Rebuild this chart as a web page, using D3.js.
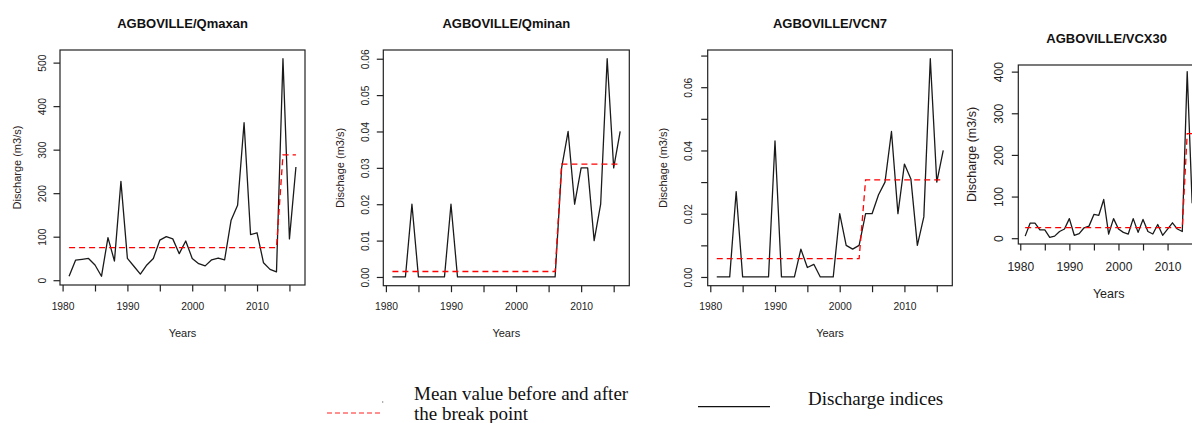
<!DOCTYPE html>
<html>
<head>
<meta charset="utf-8">
<script src="https://cdn.jsdelivr.net/npm/d3@7"></script>
<style>
  html, body { margin: 0; padding: 0; background: #fff; overflow: hidden; }
  svg { display: block; }
</style>
</head>
<body>
<script>
// ---------- DATA ----------
const years = [1981,1982,1983,1984,1985,1986,1987,1988,1989,1990,1991,1992,1993,1994,1995,1996,1997,1998,1999,2000,2001,2002,2003,2004,2005,2006,2007,2008,2009,2010,2011,2012,2013,2014,2015,2016];

const qmaxan = [9,46,48,50,35,9,98,44,227,50,32,14,35,50,92,100,95,61,90,50,38,33,47,51,47,138,172,362,105,109,40,25,19,509,95,260];
const qminan = [0,0,0,0.02,0,0,0,0,0,0.02,0,0,0,0,0,0,0,0,0,0,0,0,0,0,0,0,0.03,0.04,0.02,0.03,0.03,0.01,0.02,0.06,0.03,0.04];
const vcn7   = [0,0,0,0.027,0,0,0,0,0,0.043,0,0,0,0.0088,0.003,0.004,0,0,0,0.02,0.01,0.0088,0.01,0.02,0.02,0.026,0.03,0.046,0.02,0.0357,0.031,0.01,0.019,0.069,0.03,0.04];
const vcx30  = [5,36,36,20,20,2,5,16,22,47,7,11,25,29,57,55,93,10,47,22,14,10,47,14,45,16,10,33,7,22,37,22,16,400,85,268];

// mean value before / after break: [lastYearBefore, meanBefore, firstYearAfter, meanAfter]
const qmaxanBreak = [2013, 75, 2014, 288];
const qminanBreak = [2006, 0.0015, 2007, 0.031];
const vcn7Break   = [2003, 0.0058, 2004, 0.0307];
const vcx30Break  = [2013, 25.5, 2014, 251];

const titles  = ["AGBOVILLE/Qmaxan", "AGBOVILLE/Qminan", "AGBOVILLE/VCN7", "AGBOVILLE/VCX30"];
const yLabels = ["Discharge (m3/s)", "Dischage (m3/s)", "Dischage (m3/s)", "Discharge (m3/s)"];
const xLabel  = "Years";
const xTicks  = [1980,1985,1990,1995,2000,2005,2010,2015];
const xTickLabels = [1980,1990,2000,2010];
const qmaxanTicks = [0,100,200,300,400,500];
const qminanTicks = [0,0.01,0.02,0.03,0.04,0.05,0.06];
const vcn7Ticks   = [0,0.01,0.02,0.03,0.04,0.05,0.06,0.07];
const vcn7TickLabels = [0,0.02,0.04,0.06];
const vcx30Ticks  = [0,100,200,300,400];

const legendLabels = ["Mean value before and after", "the break point", "Discharge indices"];

// ---------- LAYOUT ----------
const W = 1192, H = 423;
const panels = [
  { series: qmaxan, brk: qmaxanBreak, ticks: qmaxanTicks, labels: qmaxanTicks, fmt: d3.format("d"),
    box: {l: 60, r: 305, t: 50, b: 285}, tickFont: 10.3, titleY: 28, labFont: 11, yLabOff: 43.3, yearsY: 337, xLabOff: 21, yTickOff: 18 },
  { series: qminan, brk: qminanBreak, ticks: qminanTicks, labels: qminanTicks, fmt: d3.format(".2f"),
    box: {l: 383.3, r: 629.3, t: 50, b: 285.7}, tickFont: 10.3, titleY: 28, labFont: 11, yLabOff: 43.3, yearsY: 337, xLabOff: 21, yTickOff: 18 },
  { series: vcn7, brk: vcn7Break, ticks: vcn7Ticks, labels: vcn7TickLabels, fmt: d3.format(".2f"),
    box: {l: 707.7, r: 952.3, t: 50, b: 285.7}, tickFont: 10.3, titleY: 28, labFont: 11, yLabOff: 44.7, yearsY: 337, xLabOff: 21, yTickOff: 19.5 },
  { series: vcx30, brk: vcx30Break, ticks: vcx30Ticks, labels: vcx30Ticks, fmt: d3.format("d"),
    box: {l: 1018.3, r: 1203.9, t: 65, b: 244}, tickFont: 12, titleY: 43, labFont: 12.5, yLabOff: 46.6, yearsY: 297.5, xLabOff: 22.7, yTickOff: 20 }
];

const svg = d3.select("body").append("svg").attr("width", W).attr("height", H)
  .style("font-family", "'Liberation Sans', Arial, sans-serif");
svg.append("rect").attr("width", W).attr("height", H).attr("fill", "#fff");

const textColor = "#222";

panels.forEach((p, i) => {
  const b = p.box;
  // R-style 4% axis padding
  const xr = d3.extent(years), xp = (xr[1] - xr[0]) * 0.04;
  const allY = p.series.concat([p.brk[1], p.brk[3]]);
  const yr = d3.extent(allY), yp = (yr[1] - yr[0]) * 0.04;
  const x = d3.scaleLinear().domain([xr[0] - xp, xr[1] + xp]).range([b.l, b.r]);
  const y = d3.scaleLinear().domain([yr[0] - yp, yr[1] + yp]).range([b.b, b.t]);

  const g = svg.append("g");

  // title
  g.append("text").attr("x", (b.l + Math.min(b.r, 1199)) / 2 - (i === 3 ? 2 : 0)).attr("y", p.titleY)
    .attr("text-anchor", "middle").attr("font-weight", "bold").attr("font-size", 13)
    .attr("fill", "#111").text(titles[i]);

  // box
  g.append("rect").attr("x", b.l).attr("y", b.t).attr("width", b.r - b.l).attr("height", b.b - b.t)
    .attr("fill", "none").attr("stroke", "#222").attr("stroke-width", 1.2);

  // x axis
  const xa = g.append("g").attr("transform", `translate(0,${b.b})`)
    .call(d3.axisBottom(x).tickValues(xTicks).tickSize(6.5).tickPadding(0)
      .tickFormat(d => xTickLabels.includes(d) ? d : ""));
  xa.select(".domain").remove();
  xa.selectAll("line").attr("stroke", "#222").attr("stroke-width", 1.2);
  xa.selectAll("text").attr("font-size", p.tickFont).attr("fill", textColor)
    .attr("font-family", "'Liberation Sans', Arial, sans-serif")
    .attr("y", p.xLabOff).attr("dy", "0.35em");

  // y axis
  const ya = g.append("g").attr("transform", `translate(${b.l},0)`)
    .call(d3.axisLeft(y).tickValues(p.ticks).tickSize(6.5).tickPadding(0)
      .tickFormat(d => p.labels.some(v => Math.abs(v - d) < 1e-9) ? p.fmt(d) : ""));
  ya.select(".domain").remove();
  ya.selectAll("line").attr("stroke", "#222").attr("stroke-width", 1.2);
  ya.selectAll("text").attr("font-size", p.tickFont).attr("fill", textColor)
    .attr("font-family", "'Liberation Sans', Arial, sans-serif")
    .attr("x", null).attr("dy", null)
    .attr("text-anchor", "middle")
    .attr("transform", `translate(${-p.yTickOff},0) rotate(-90)`)
    .attr("dy", "0.35em");

  // axis titles
  g.append("text").attr("x", (b.l + (i === 3 ? 1199 : b.r)) / 2).attr("y", p.yearsY)
    .attr("text-anchor", "middle").attr("font-size", p.labFont).attr("fill", textColor).text(xLabel);
  g.append("text")
    .attr("transform", `translate(${b.l - p.yLabOff},${(b.t + b.b) / 2}) rotate(-90)`)
    .attr("text-anchor", "middle").attr("dy", "0.35em").attr("font-size", p.labFont)
    .attr("fill", "#2a2020").text(yLabels[i]);

  // clip
  const cid = "clip" + i;
  svg.append("clipPath").attr("id", cid).append("rect")
    .attr("x", b.l).attr("y", b.t).attr("width", b.r - b.l).attr("height", b.b - b.t);

  // mean line (before / after break)
  const meanPts = [
    [years[0], p.brk[1]], [p.brk[0], p.brk[1]],
    [p.brk[2], p.brk[3]], [years[years.length - 1], p.brk[3]]
  ];
  const line = d3.line().x(d => x(d[0])).y(d => y(d[1]));

  g.append("path").datum(years.map((yy, k) => [yy, p.series[k]]))
    .attr("clip-path", `url(#${cid})`)
    .attr("d", line).attr("fill", "none").attr("stroke", "#1a1a1a").attr("stroke-width", 1.3)
    .attr("stroke-linejoin", "round");

  g.append("path").datum(meanPts)
    .attr("clip-path", `url(#${cid})`)
    .attr("d", line).attr("fill", "none").attr("stroke", "#ff0000").attr("stroke-width", 1.3)
    .attr("stroke-dasharray", "6,4");
});

// ---------- LEGEND ----------
const lg = svg.append("g").style("font-family", "'Liberation Serif', 'Times New Roman', serif");
lg.append("line").attr("x1", 327).attr("x2", 382).attr("y1", 413).attr("y2", 413)
  .attr("stroke", "#ff2020").attr("stroke-width", 1).attr("stroke-dasharray", "5,3");
lg.append("circle").attr("cx", 382.7).attr("cy", 402).attr("r", 0.7).attr("fill", "#777");
lg.append("text").attr("x", 414).attr("y", 400).attr("font-size", 19).attr("fill", "#111").text(legendLabels[0]);
lg.append("text").attr("x", 414).attr("y", 420).attr("font-size", 19).attr("fill", "#111").text(legendLabels[1]);
lg.append("line").attr("x1", 698).attr("x2", 770).attr("y1", 406.7).attr("y2", 406.7)
  .attr("stroke", "#111").attr("stroke-width", 1.3);
lg.append("text").attr("x", 808).attr("y", 404.5).attr("font-size", 19).attr("fill", "#111").text(legendLabels[2]);
</script>
</body>
</html>
